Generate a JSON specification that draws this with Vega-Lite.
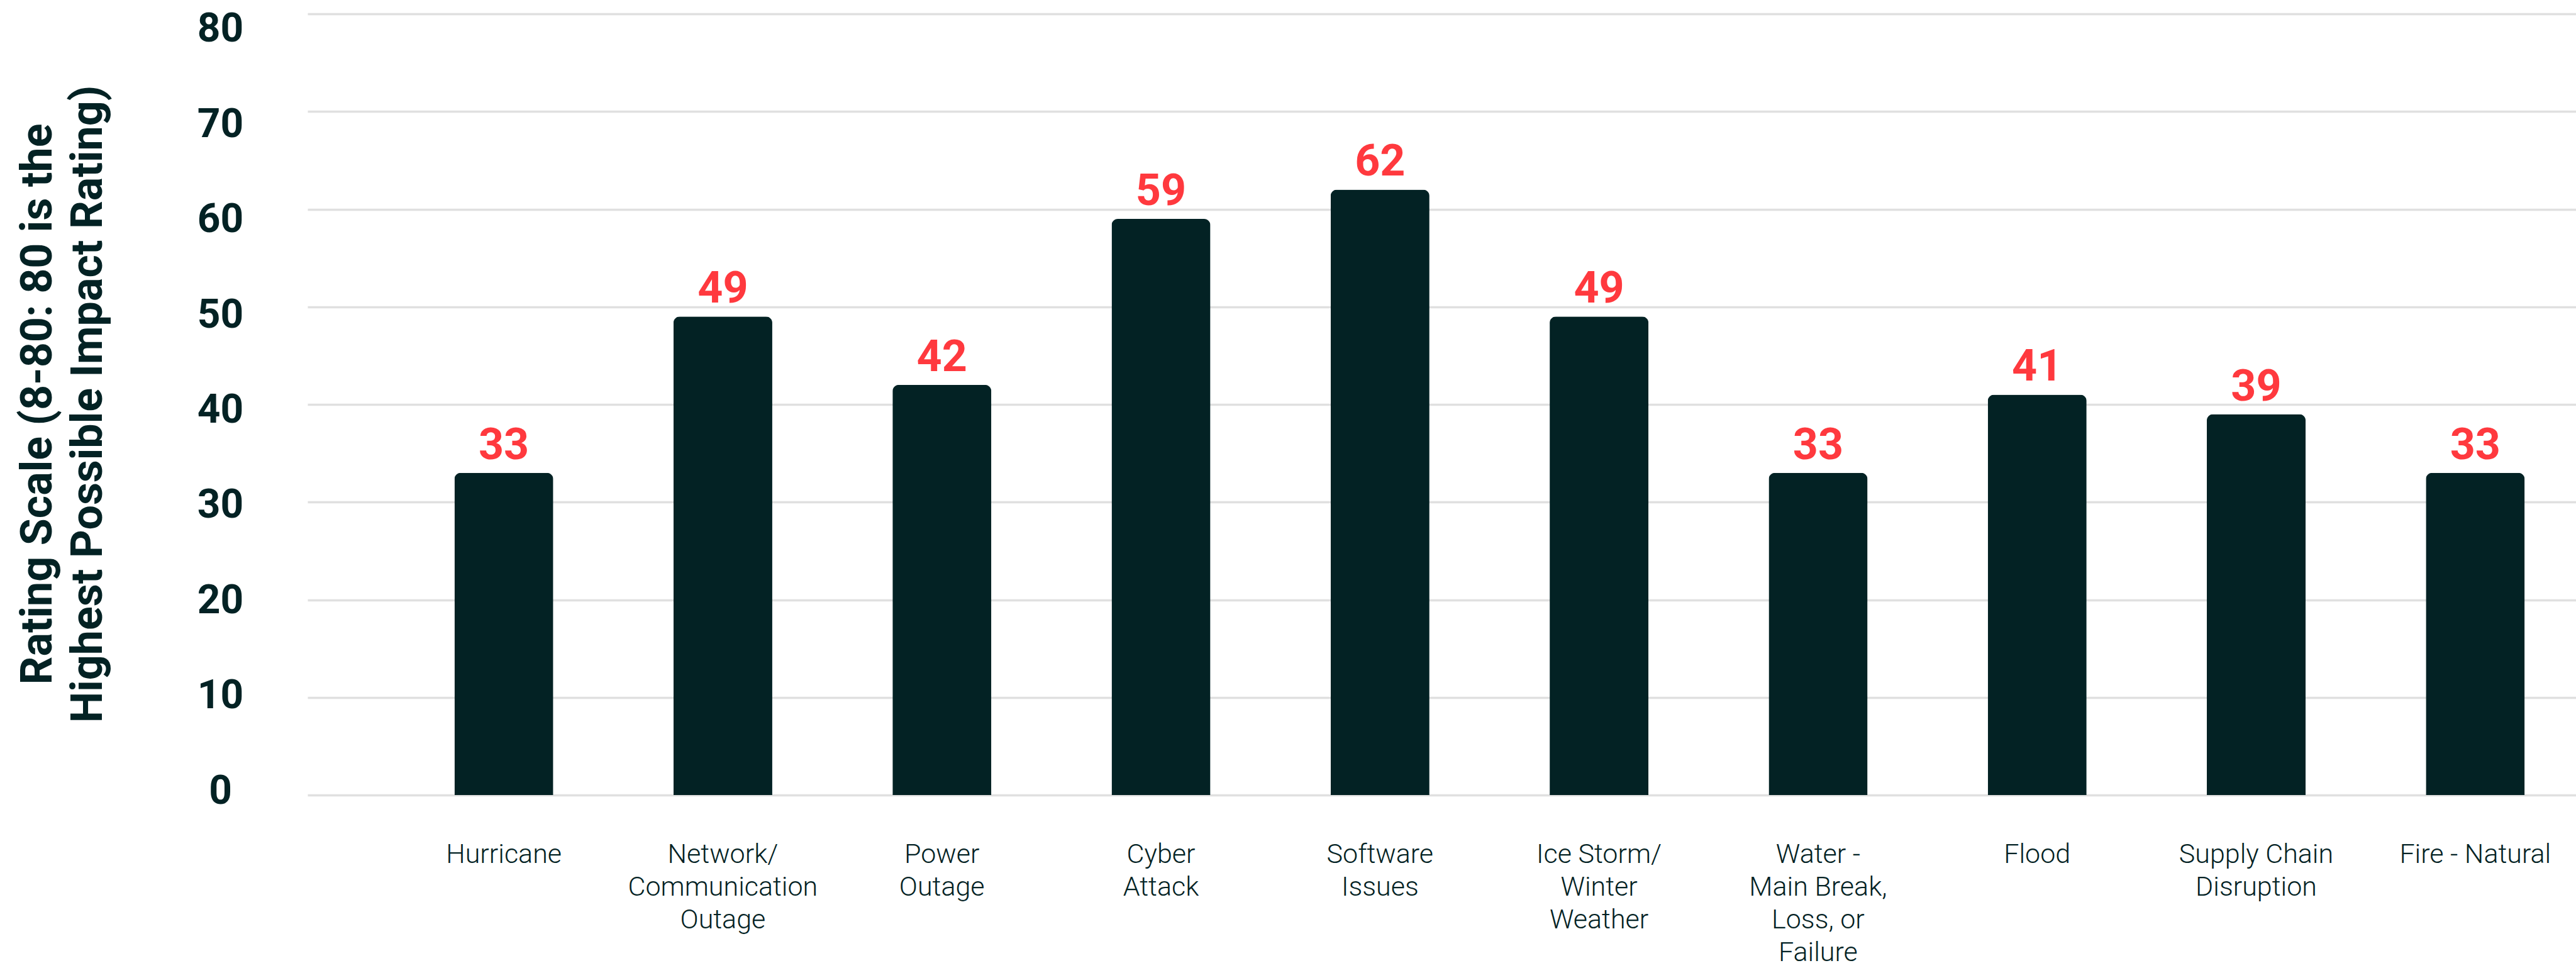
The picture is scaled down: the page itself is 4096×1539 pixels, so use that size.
{
  "$schema": "https://vega.github.io/schema/vega-lite/v6.json",
  "width": 3607,
  "height": 1242,
  "autosize": {"type": "none"},
  "padding": {"left": 489, "top": 22, "right": 0, "bottom": 275},
  "background": "white",
  "config": {"view": {"stroke": null}},
  "data": {
    "values": [
      {"hazard": "Hurricane", "rating": 33},
      {"hazard": "Network/\nCommunication\nOutage", "rating": 49},
      {"hazard": "Power\nOutage", "rating": 42},
      {"hazard": "Cyber\nAttack", "rating": 59},
      {"hazard": "Software\nIssues", "rating": 62},
      {"hazard": "Ice Storm/\nWinter\nWeather", "rating": 49},
      {"hazard": "Water -\nMain Break,\nLoss, or\nFailure", "rating": 33},
      {"hazard": "Flood", "rating": 41},
      {"hazard": "Supply Chain\nDisruption", "rating": 39},
      {"hazard": "Fire - Natural", "rating": 33}
    ]
  },
  "encoding": {
    "x": {
      "field": "hazard",
      "type": "nominal",
      "sort": null,
      "scale": {"paddingInner": 0.549, "paddingOuter": 0.4525, "align": 0.741},
      "axis": {
        "title": null,
        "labelAngle": 0,
        "labelExpr": "split(datum.label, '\\n')",
        "labelFont": "Roboto",
        "labelFontWeight": 300,
        "labelFontSize": 43,
        "labelColor": "#032224",
        "labelPadding": 107,
        "labelBaseline": "alphabetic",
        "labelLineHeight": 52,
        "labelLimit": 1000,
        "labelOverlap": false,
        "labelBound": false,
        "domain": false,
        "ticks": false,
        "tickSize": 0,
        "grid": false
      }
    },
    "y": {
      "field": "rating",
      "type": "quantitative",
      "scale": {"domain": [0, 80], "nice": false},
      "axis": {
        "values": [0, 10, 20, 30, 40, 50, 60, 70, 80],
        "title": ["Rating Scale (8-80: 80 is the", "Highest Possible Impact Rating)"],
        "titleFont": "Roboto",
        "titleFontWeight": "bold",
        "titleFontSize": 70,
        "titleColor": "#032224",
        "titleAngle": -90,
        "titleX": -408,
        "titleY": 620,
        "titleAlign": "center",
        "titleBaseline": "alphabetic",
        "titleLineHeight": 80,
        "labelFont": "Roboto",
        "labelFontWeight": "bold",
        "labelFontSize": 64,
        "labelColor": "#032224",
        "labelAlign": "center",
        "labelBaseline": "middle",
        "labelPadding": 139,
        "labelOffset": {"expr": "datum.value * 0.384 - 5.8"},
        "domain": false,
        "ticks": false,
        "tickSize": 0,
        "grid": true,
        "gridColor": "#e0e0e0",
        "gridWidth": 3.5
      }
    }
  },
  "layer": [
    {
      "mark": {
        "type": "bar",
        "color": "#032224",
        "cornerRadiusTopLeft": 10,
        "cornerRadiusTopRight": 10
      }
    },
    {
      "mark": {
        "type": "text",
        "font": "Roboto",
        "fontWeight": "bold",
        "fontSize": 70,
        "color": "#ff393e",
        "align": "center",
        "baseline": "alphabetic",
        "dy": -22
      },
      "encoding": {"text": {"field": "rating", "type": "quantitative"}}
    }
  ]
}
